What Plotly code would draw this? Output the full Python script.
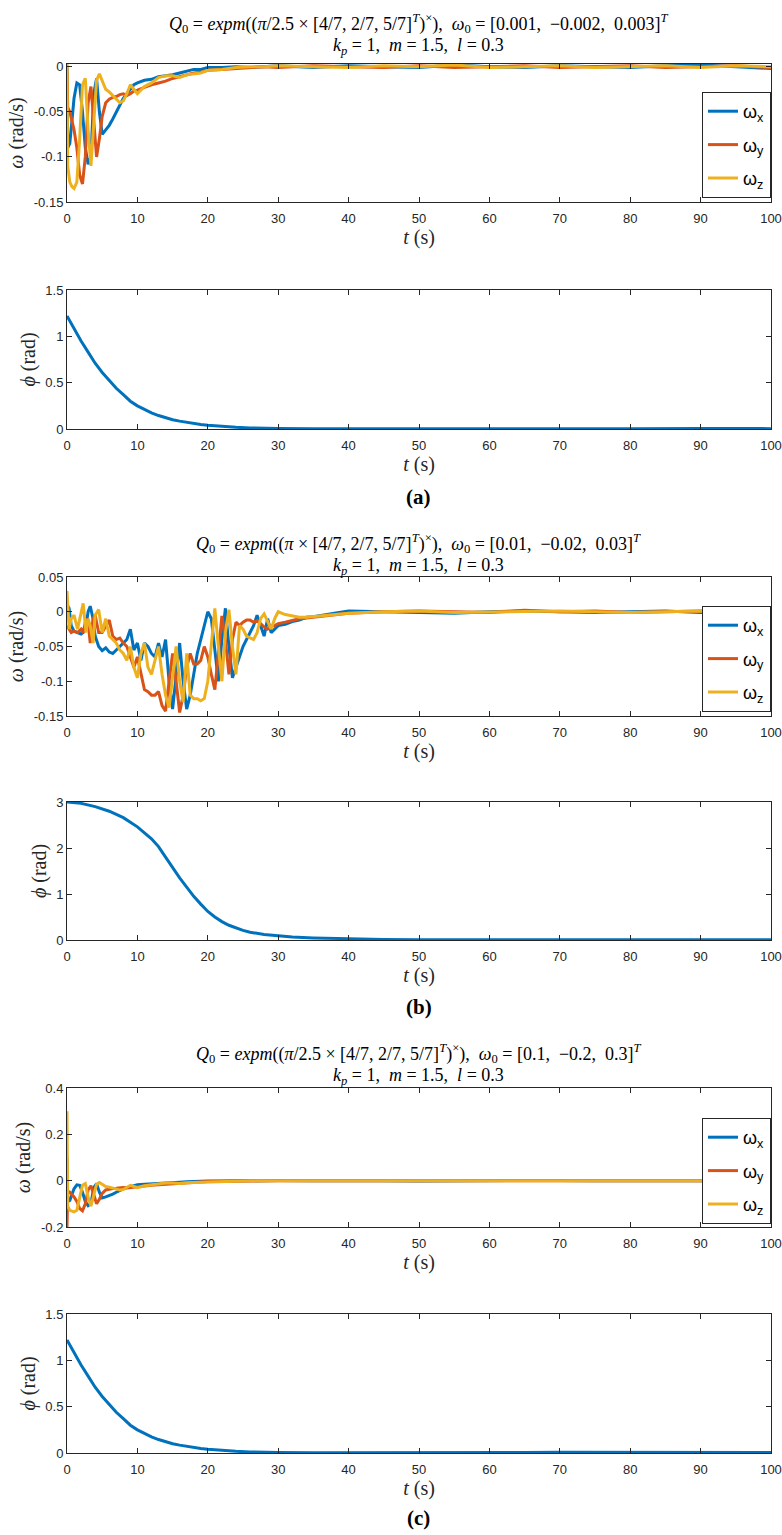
import plotly.graph_objects as go

# ---------------- data ----------------
TICK_T = [0, 10, 20, 30, 40, 50, 60, 70, 80, 90, 100]

# panel (a): omega
T_A = [0, 0.1, 0.4, 0.7, 1.0, 1.4, 1.8, 2.2, 2.6, 3.0,
       3.4, 3.8, 4.2, 4.6, 5.0, 5.5, 6.0, 6.5, 7.0, 7.5,
       8.0, 8.5, 9.0, 9.5, 10, 11, 12, 13, 14, 15,
       16, 17, 18, 19, 20, 22, 24, 26, 28, 30,
       35, 40, 45, 50, 55, 60, 65, 70, 75, 80,
       85, 90, 95, 100]
WX_A = [0.001, -0.09, -0.085, -0.06, -0.035, -0.018, -0.02, -0.05, -0.09, -0.108,
        -0.1, -0.03, -0.013, -0.05, -0.075, -0.07, -0.065, -0.058, -0.05, -0.042,
        -0.035, -0.03, -0.025, -0.02, -0.018, -0.015, -0.014, -0.011, -0.01, -0.009,
        -0.007, -0.005, -0.003, -0.003, -0.001, -0.001, 0.0, -0.001, 0.0, 0.001,
        -0.001, 0.001, 0.0, -0.001, 0.002, 0.0, -0.001, 0.001, 0.0, -0.001,
        0.001, 0.002, 0.0, -0.002]
WY_A = [-0.002, -0.045, -0.05, -0.06, -0.07, -0.09, -0.12, -0.13, -0.1, -0.04,
        -0.022, -0.06, -0.1, -0.08, -0.055, -0.04, -0.036, -0.034, -0.033, -0.031,
        -0.03, -0.032, -0.03, -0.027, -0.026, -0.023, -0.02, -0.018, -0.016, -0.013,
        -0.011, -0.009, -0.007, -0.006, -0.004, -0.003, -0.002, -0.001, 0.0, -0.001,
        0.001, 0.0, -0.001, 0.001, -0.001, 0.0, 0.001, -0.001, 0.0, 0.001,
        -0.001, 0.0, 0.001, -0.001]
WZ_A = [0.003, -0.11, -0.128, -0.133, -0.135, -0.128, -0.08, -0.02, -0.013, -0.07,
        -0.11, -0.06, -0.015, -0.008, -0.015, -0.025, -0.028, -0.032, -0.036, -0.04,
        -0.038, -0.03, -0.02, -0.025, -0.03, -0.022, -0.018, -0.012, -0.01, -0.01,
        -0.012, -0.009, -0.008, -0.007, -0.004, -0.003, -0.001, 0.0, 0.0, 0.001,
        0.0, -0.001, 0.001, 0.0, 0.002, -0.001, 0.0, 0.001, -0.001, 0.0,
        0.001, -0.001, 0.001, 0.0]

# panel (a): phi
T_PHI_A = [0, 1, 2, 3, 4, 5, 6, 7, 8, 9, 10, 11, 12, 13, 14, 15, 16, 17, 18, 19,
           20, 22, 24, 26, 28, 30, 35, 40, 50, 60, 70, 80, 87, 90, 100]
PHI_A = [1.22, 1.08, 0.95, 0.83, 0.71, 0.61, 0.52, 0.44, 0.37, 0.3, 0.25, 0.21,
         0.175, 0.145, 0.12, 0.1, 0.085, 0.07, 0.058, 0.048, 0.04, 0.027, 0.018,
         0.012, 0.008, 0.006, 0.004, 0.005, 0.004, 0.003, 0.004, 0.004, 0.008,
         0.005, 0.004]

# panel (b): omega
T_B = [0, 0.3, 0.6, 1.0, 1.5, 2.0, 2.3, 2.7, 3.0, 3.3, 3.7, 4.0,
       4.5, 5.0, 5.5, 6.0, 6.5, 7.0, 7.5, 8.0, 8.5, 9.0, 9.5, 10.0,
       10.5, 11.0, 11.5, 12.0, 12.5, 13.0, 13.5, 14.0, 14.5, 15.0, 15.5, 16.0,
       16.5, 17.0, 17.5, 18.0, 18.5, 19.0, 19.5, 20.0, 20.5, 21.0, 21.5, 22.0,
       22.5, 23.0, 23.5, 24.0, 24.5, 25.0, 25.5, 26.0, 26.5, 27.0, 27.5, 28.0,
       28.5, 29.0, 29.5, 30.0, 31, 32, 33, 34, 35, 36, 38, 40,
       45, 50, 55, 60, 65, 70, 75, 80, 85, 90, 95, 100]
WX_B = [0.01, 0.005, -0.02, -0.028, -0.03, -0.032, -0.03, -0.02, 0.0, 0.008, -0.01, -0.035,
        -0.05, -0.056, -0.052, -0.058, -0.06, -0.055, -0.05, -0.045, -0.04, -0.025, -0.055, -0.045,
        -0.07, -0.045, -0.05, -0.06, -0.065, -0.045, -0.065, -0.04, -0.1, -0.14, -0.09, -0.045,
        -0.1, -0.14, -0.12, -0.09, -0.06, -0.04, -0.02, 0.0, -0.01, -0.06, -0.1, -0.04,
        0.005, -0.05, -0.095, -0.08, -0.065, -0.05, -0.04, -0.03, -0.02, -0.005, -0.02, -0.035,
        -0.01, -0.03, -0.025, -0.02, -0.018, -0.014, -0.012, -0.008, -0.007, -0.005, -0.002, 0.001,
        0.0, -0.001, -0.002, 0.0, 0.001, 0.0, -0.001, 0.0, 0.001, -0.001, 0.0, 0.0]
WY_B = [-0.02, -0.025, -0.03, -0.028, -0.03, -0.025, -0.03, -0.01, -0.015, -0.045, -0.01, -0.005,
        -0.03, -0.03, -0.02, -0.012, -0.035, -0.04, -0.038, -0.045, -0.05, -0.065, -0.08, -0.065,
        -0.09, -0.112, -0.115, -0.12, -0.12, -0.115, -0.135, -0.143, -0.1, -0.06, -0.1, -0.145,
        -0.12, -0.08, -0.06, -0.075, -0.075, -0.07, -0.05, -0.065, -0.09, -0.112, -0.06, -0.006,
        -0.04, -0.09, -0.04, -0.015, -0.02, -0.015, -0.012, -0.012, -0.015, -0.013, -0.017, -0.022,
        -0.025, -0.02, -0.02, -0.017, -0.015, -0.012, -0.01, -0.009, -0.008, -0.006, -0.004, -0.002,
        0.0, 0.001, 0.0, -0.001, 0.002, 0.0, 0.001, -0.001, 0.0, 0.001, -0.001, 0.0]
WZ_B = [0.03, -0.025, -0.01, -0.005, -0.025, 0.0, 0.012, -0.03, -0.01, -0.02, -0.045, -0.005,
        0.003, -0.03, -0.01, -0.035, -0.04, -0.045, -0.055, -0.06, -0.07, -0.05, -0.08, -0.095,
        -0.06, -0.045, -0.08, -0.09, -0.07, -0.05, -0.09, -0.12, -0.138, -0.09, -0.05, -0.1,
        -0.13, -0.06, -0.12, -0.125, -0.125, -0.128, -0.125, -0.1, -0.05, 0.005, -0.05, -0.1,
        -0.03, 0.003, -0.05, -0.09, -0.02, -0.025, -0.035, -0.038, -0.04, -0.03, -0.01, -0.003,
        -0.015, -0.025, -0.01, 0.0, -0.004, -0.006, -0.008, -0.008, -0.007, -0.006, -0.004, -0.002,
        0.0, 0.001, -0.001, 0.0, 0.0, 0.001, 0.0, -0.001, 0.0, 0.001, 0.0, 0.0]

# panel (b): phi
T_PHI_B = [0, 2, 4, 6, 8, 10, 12, 13, 14, 15, 16, 17, 18, 19, 20, 21, 22, 23, 24,
           25, 26, 28, 30, 32, 35, 40, 45, 50, 60, 70, 80, 90, 100]
PHI_B = [3.0, 2.97, 2.9, 2.8, 2.66, 2.46, 2.2, 2.03, 1.8, 1.57, 1.35, 1.15, 0.95,
         0.78, 0.62, 0.5, 0.4, 0.32, 0.26, 0.21, 0.17, 0.12, 0.09, 0.065, 0.045,
         0.025, 0.012, 0.006, 0.004, 0.004, 0.003, 0.003, 0.003]

# panel (c): omega
T_C = T_A
WX_C = [0.1, -0.09, -0.085, -0.06, -0.035, -0.018, -0.02, -0.05, -0.09, -0.108,
        -0.1, -0.03, -0.013, -0.05, -0.075, -0.07, -0.065, -0.058, -0.05, -0.042,
        -0.035, -0.03, -0.025, -0.02, -0.018, -0.015, -0.014, -0.011, -0.01, -0.009,
        -0.007, -0.005, -0.003, -0.003, -0.001, -0.001, 0.0, -0.001, 0.0, 0.001,
        0.0, 0.001, 0.0, -0.001, 0.0, 0.0, 0.0, 0.001, 0.0, 0.0,
        0.0, 0.0, 0.0, 0.0]
WY_C = [-0.2, -0.045, -0.05, -0.06, -0.07, -0.09, -0.12, -0.13, -0.1, -0.04,
        -0.022, -0.06, -0.1, -0.08, -0.055, -0.04, -0.036, -0.034, -0.033, -0.031,
        -0.03, -0.032, -0.03, -0.027, -0.026, -0.023, -0.02, -0.018, -0.016, -0.013,
        -0.011, -0.009, -0.007, -0.006, -0.004, -0.003, -0.002, -0.001, 0.0, 0.0,
        0.0, 0.0, 0.0, 0.0, 0.0, 0.0, 0.0, 0.0, 0.0, 0.0,
        0.0, 0.0, 0.0, 0.0]
WZ_C = [0.3, -0.11, -0.128, -0.133, -0.135, -0.128, -0.08, -0.02, -0.013, -0.07,
        -0.11, -0.06, -0.015, -0.008, -0.015, -0.025, -0.028, -0.032, -0.036, -0.04,
        -0.038, -0.03, -0.02, -0.025, -0.03, -0.022, -0.018, -0.012, -0.01, -0.01,
        -0.012, -0.009, -0.008, -0.007, -0.004, -0.003, -0.001, 0.0, 0.0, 0.0,
        0.0, 0.0, 0.0, 0.0, 0.0, 0.0, 0.0, 0.0, 0.0, 0.0,
        0.0, 0.0, 0.0, 0.0]

# panel (c): phi
T_PHI_C = [0, 1, 2, 3, 4, 5, 6, 7, 8, 9, 10, 11, 12, 13, 14, 15, 16, 17, 18, 19,
           20, 22, 24, 26, 28, 30, 35, 40, 50, 60, 65, 70, 80, 90, 100]
PHI_C = [1.22, 1.08, 0.95, 0.83, 0.71, 0.61, 0.52, 0.44, 0.37, 0.3, 0.25, 0.21,
         0.175, 0.145, 0.12, 0.1, 0.085, 0.07, 0.058, 0.048, 0.04, 0.027, 0.018,
         0.012, 0.008, 0.006, 0.004, 0.003, 0.004, 0.003, 0.006, 0.007, 0.004,
         0.004, 0.005]

Y_TICKS_W_A = [-0.15, -0.1, -0.05, 0]
Y_TEXT_W_A = ["-0.15", "-0.1", "-0.05", "0"]
Y_TICKS_PHI_A = [0, 0.5, 1, 1.5]
Y_TEXT_PHI_A = ["0", "0.5", "1", "1.5"]
Y_TICKS_W_B = [-0.15, -0.1, -0.05, 0, 0.05]
Y_TEXT_W_B = ["-0.15", "-0.1", "-0.05", "0", "0.05"]
Y_TICKS_PHI_B = [0, 1, 2, 3]
Y_TEXT_PHI_B = ["0", "1", "2", "3"]
Y_TICKS_W_C = [-0.2, 0, 0.2, 0.4]
Y_TEXT_W_C = ["-0.2", "0", "0.2", "0.4"]

SP = "&nbsp;"
TITLES_1 = [
    "<i>Q</i><sub>0</sub> = <i>expm</i>((<i>π</i>/2.5 × [4/7, 2/7, 5/7]<sup><i>T</i></sup>)<sup>×</sup>)," + SP + " <i>ω</i><sub>0</sub> = [0.001," + SP + " −0.002," + SP + " 0.003]<sup><i>T</i></sup>",
    "<i>Q</i><sub>0</sub> = <i>expm</i>((<i>π</i> × [4/7, 2/7, 5/7]<sup><i>T</i></sup>)<sup>×</sup>)," + SP + " <i>ω</i><sub>0</sub> = [0.01," + SP + " −0.02," + SP + " 0.03]<sup><i>T</i></sup>",
    "<i>Q</i><sub>0</sub> = <i>expm</i>((<i>π</i>/2.5 × [4/7, 2/7, 5/7]<sup><i>T</i></sup>)<sup>×</sup>)," + SP + " <i>ω</i><sub>0</sub> = [0.1," + SP + " −0.2," + SP + " 0.3]<sup><i>T</i></sup>",
]
TITLE_2 = "<i>k<sub>p</sub></i>" + SP + "=" + SP + "1," + SP + " <i>m</i>" + SP + "=" + SP + "1.5," + SP + " <i>l</i>" + SP + "=" + SP + "0.3"
CAPTIONS = ["(a)", "(b)", "(c)"]
SERIES_NAMES = ["ω<sub>x</sub>", "ω<sub>y</sub>", "ω<sub>z</sub>"]
COLORS = ["#0072BD", "#D95319", "#EDB120"]

# ---------------- layout geometry (reference pixels) ----------------
W, H = 782, 1535
XL, XR = 67, 771
PANELS = [(64, 202), (290, 429), (577, 716), (802, 940), (1088, 1227), (1314, 1453)]
YRANGES = [[-0.15, 0.003], [0, 1.5], [-0.15, 0.05], [0, 3], [-0.2, 0.4], [0, 1.5]]
YTICKS = [(Y_TICKS_W_A, Y_TEXT_W_A), (Y_TICKS_PHI_A, Y_TEXT_PHI_A),
          (Y_TICKS_W_B, Y_TEXT_W_B), (Y_TICKS_PHI_B, Y_TEXT_PHI_B),
          (Y_TICKS_W_C, Y_TEXT_W_C), (Y_TICKS_PHI_A, Y_TEXT_PHI_A)]
TITLE_Y = [(23, 47), (543, 566), (1053, 1076)]
CAPTION_Y = [497, 1007, 1518]
LEGEND_TOP = [92, 606, 1118]

SERIF = "Liberation Serif"
SANS = "Liberation Sans"
DARK = "#262626"

def px(p):
    return p / W

def py(p):
    return 1 - p / H

fig = go.Figure()
omega_sets = [(T_A, [WX_A, WY_A, WZ_A]), (T_B, [WX_B, WY_B, WZ_B]), (T_C, [WX_C, WY_C, WZ_C])]
phi_sets = [(T_PHI_A, PHI_A), (T_PHI_B, PHI_B), (T_PHI_C, PHI_C)]

for k in range(3):
    ia = 2 * k + 1
    ib = 2 * k + 2
    lg = "legend" if k == 0 else f"legend{k + 1}"
    t, series = omega_sets[k]
    for j in range(3):
        fig.add_trace(go.Scatter(
            x=t, y=series[j], mode="lines", name=SERIES_NAMES[j],
            line=dict(color=COLORS[j], width=3),
            xaxis=f"x{ia}", yaxis=f"y{ia}", legend=lg,
            legendgroup=f"g{k}{j}", showlegend=True))
    tp, ph = phi_sets[k]
    fig.add_trace(go.Scatter(
        x=tp, y=ph, mode="lines", line=dict(color=COLORS[0], width=3),
        xaxis=f"x{ib}", yaxis=f"y{ib}", showlegend=False))

layout = dict(width=W, height=H, margin=dict(l=0, r=0, t=0, b=0),
              paper_bgcolor="white", plot_bgcolor="white", showlegend=True)
annotations = []
for i, (top, bot) in enumerate(PANELS):
    n = i + 1
    suffix = "" if n == 1 else str(n)
    is_omega = (i % 2 == 0)
    tv, tt = YTICKS[i]
    layout["xaxis" + suffix] = dict(
        domain=[px(XL), px(XR)], range=[0, 100], anchor="y" + suffix,
        tickvals=TICK_T, ticktext=[str(v) for v in TICK_T],
        showline=True, linecolor=DARK, linewidth=1, mirror="ticks",
        ticks="inside", ticklen=5, tickcolor=DARK, ticklabelstandoff=4,
        ticklabeloverflow="allow",
        tickfont=dict(family=SANS, size=13, color=DARK),
        showgrid=False, zeroline=False, automargin=False,
        title=dict(text="<i>t</i>" + SP + "(s)", font=dict(family=SERIF, size=20, color=DARK), standoff=0))
    layout["yaxis" + suffix] = dict(
        domain=[py(bot), py(top)], range=YRANGES[i], anchor="x" + suffix,
        tickvals=tv, ticktext=tt, ticklabeloverflow="allow",
        showline=True, linecolor=DARK, linewidth=1, mirror="ticks",
        ticks="inside", ticklen=5, tickcolor=DARK,
        tickfont=dict(family=SANS, size=13, color=DARK),
        showgrid=False, zeroline=False, automargin=False,
        title=dict(text=("<i>ω</i>" + SP + "(rad/s)" if is_omega else "<i>ϕ</i>" + SP + "(rad)"),
                   font=dict(family=SERIF, size=20, color=DARK), standoff=4))

cx = px((XL + XR) / 2)
for k in range(3):
    y1, y2 = TITLE_Y[k]
    annotations.append(dict(text=TITLES_1[k], x=cx, y=py(y1), xref="paper", yref="paper",
                            showarrow=False, xanchor="center", yanchor="middle",
                            font=dict(family=SERIF, size=18, color="black")))
    annotations.append(dict(text=TITLE_2, x=cx, y=py(y2), xref="paper", yref="paper",
                            showarrow=False, xanchor="center", yanchor="middle",
                            font=dict(family=SERIF, size=18, color="black")))
    annotations.append(dict(text="<b>" + CAPTIONS[k] + "</b>", x=cx, y=py(CAPTION_Y[k]),
                            xref="paper", yref="paper", showarrow=False,
                            xanchor="center", yanchor="middle",
                            font=dict(family=SERIF, size=21, color="black")))
    lg = "legend" if k == 0 else f"legend{k + 1}"
    layout[lg] = dict(x=px(XR), y=py(LEGEND_TOP[k]), xref="paper", yref="paper",
                      xanchor="right", yanchor="top", bgcolor="white",
                      bordercolor=DARK, borderwidth=1, itemwidth=30,
                      tracegroupgap=7,
                      font=dict(family=SANS, size=18, color="black"))
layout["annotations"] = annotations
fig.update_layout(**layout)
fig.write_html(
    "out.html",
    config={"displayModeBar": False},
    post_script="document.body.style.margin='0';document.documentElement.style.overflow='hidden';")
